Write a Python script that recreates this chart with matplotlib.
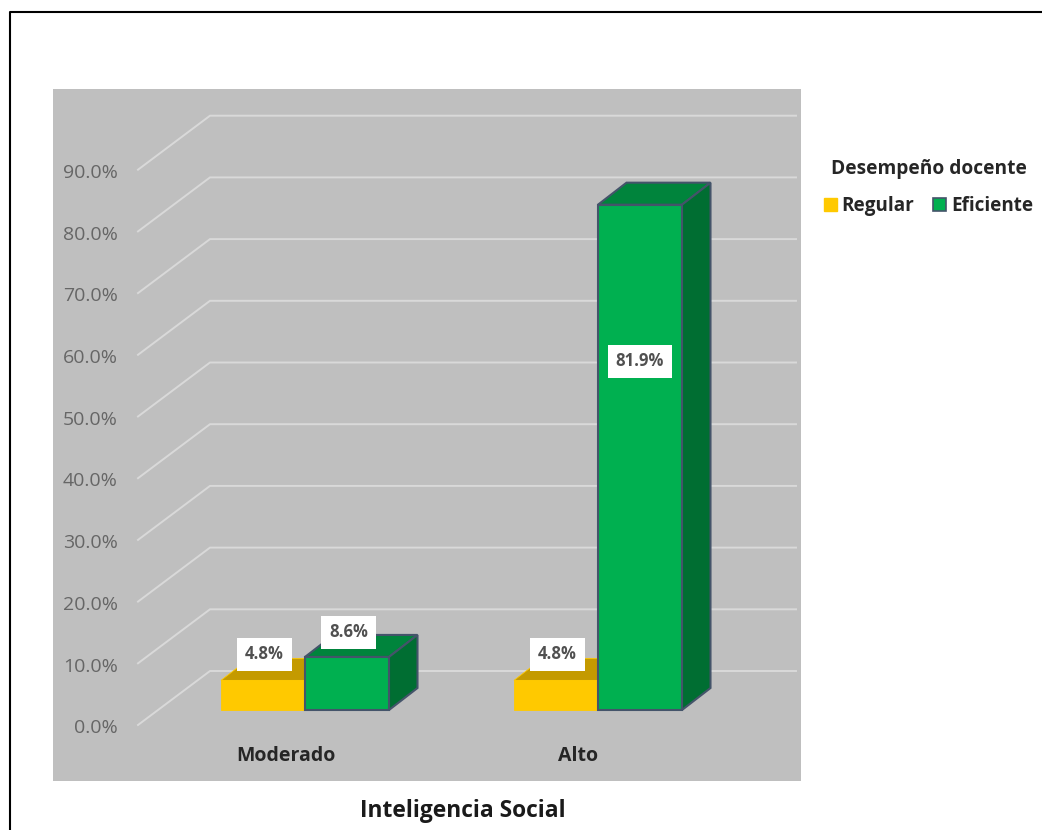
import matplotlib
matplotlib.use("Agg")
import matplotlib.pyplot as plt
from matplotlib.lines import Line2D
from matplotlib.patches import Polygon, Rectangle
from matplotlib.transforms import ScaledTranslation

plt.rcParams['font.family'] = ['Open Sans', 'DejaVu Sans']

categories = ['Moderado', 'Alto']
series_names = ['Regular', 'Eficiente']
regular = [4.8, 4.8]
eficiente = [8.6, 81.9]
tick_values = [0, 10, 20, 30, 40, 50, 60, 70, 80, 90]
xlabel = 'Inteligencia Social'
legend_title = 'Desempeño docente'

W, H = 1042, 830
fig = plt.figure(figsize=(W / 100, H / 100), dpi=100, facecolor='white')
L, R, T, B = 53, 801, 89, 781
ax = fig.add_axes([L / W, 1 - B / H, (R - L) / W, (B - T) / H], facecolor='#BFBFBF')

PX_X = 293.0   # pixels per category
PX_Y = 6.17    # pixels per percent
X0, Y0 = 305, 710
ax.set_xlim((L - X0) / PX_X, (R - X0) / PX_X)
ax.set_ylim((Y0 - B) / PX_Y, (Y0 - T) / PX_Y)
for s in ax.spines.values():
    s.set_visible(False)

# 3-D geometry in data units
bar_w = 84 / PX_X
dep_x, dep_y = 28.5 / PX_X, 22 / PX_Y
front_y = -15 / PX_Y
back_y = 39 / PX_Y
wall_x0, wall_x1, floor_x = (210 - X0) / PX_X, (796 - X0) / PX_X, (138 - X0) / PX_X

for v in tick_values:
    ax.plot([floor_x, wall_x0, wall_x1], [v + front_y, v + back_y, v + back_y],
            color='#D9D9D9', lw=1.4, zorder=1, solid_joinstyle='miter')

ax.set_yticks([v + front_y for v in tick_values])
ax.set_yticklabels([f'{v:.1f}%' for v in tick_values])
ax.tick_params(axis='y', length=0, pad=-(118 - L) * 0.72, labelsize=14, labelcolor='#666666')
label_shift = ScaledTranslation(0, -1.2 / 100, fig.dpi_scale_trans)
for tick in ax.yaxis.get_major_ticks():
    tick.label1.set_transform(tick.label1.get_transform() + label_shift)
ax.set_xticks([i - 19.5 / PX_X for i in range(len(categories))])
ax.set_xticklabels(categories, fontweight='bold')
ax.tick_params(axis='x', length=0, pad=-(B - 746) * 0.72, labelsize=14, labelcolor='#262626')


def box3d(x_left, value, front, top, side, edge, lw, z):
    ax.bar(x_left, value, width=bar_w, align='edge', color=front, edgecolor=edge,
           linewidth=lw, zorder=z + 0.2)
    xr = x_left + bar_w
    ax.add_patch(Polygon([(x_left, value), (xr, value), (xr + dep_x, value + dep_y),
                          (x_left + dep_x, value + dep_y)],
                         facecolor=top, edgecolor=edge, lw=lw, zorder=z, joinstyle='miter'))
    ax.add_patch(Polygon([(xr, 0), (xr + dep_x, dep_y), (xr + dep_x, value + dep_y), (xr, value)],
                         facecolor=side, edgecolor=edge, lw=lw, zorder=z, joinstyle='miter'))


def label(x, y, value):
    ax.text(x, y, f'{value:.1f}%', ha='center', va='center', fontsize=12, fontweight='bold',
            color='#505050', zorder=10,
            bbox=dict(boxstyle='square,pad=0.46', facecolor='white', edgecolor='none'))


for i in range(len(categories)):
    box3d(i - bar_w, regular[i], '#FFC900', '#C49A00', '#C49A00', '#FFC900', 0.6, 3)
    box3d(i, eficiente[i], '#00B050', '#00843C', '#006E32', '#44546A', 1.5, 4)
    label(i - bar_w / 2 + 1.5 / PX_X, regular[i] + 4.2, regular[i])
    y_g = eficiente[i] * 0.69 if eficiente[i] > 50 else eficiente[i] + 4.0
    label(i + bar_w / 2 + (0 if eficiente[i] > 50 else 1.5) / PX_X, y_g, eficiente[i])

handles = [Rectangle((0, 0), 1, 1, facecolor='#FFC900', edgecolor='#FFC900'),
           Rectangle((0, 0), 1, 1, facecolor='#00B050', edgecolor='#44546A', lw=1.2)]
leg = fig.legend(handles, series_names, ncol=2, frameon=False, title=legend_title,
                 loc='center', bbox_to_anchor=(928.5 / W, 1 - 187.5 / H),
                 prop=dict(weight='bold', size=13.6),
                 title_fontproperties=dict(weight='bold', size=13.8),
                 handlelength=0.69, handleheight=0.69, handletextpad=0.26, columnspacing=1.0,
                 labelcolor='#262626', labelspacing=0, borderpad=0, borderaxespad=0)
leg._legend_box.sep = 12
leg.get_title().set_color('#262626')

fig.text(463 / W, 1 - 811 / H, xlabel, ha='center', va='center', fontsize=16.4,
         fontweight='bold', color='#1a1a1a')

fig.add_artist(Line2D([9.5 / W, 9.5 / W, 1.0], [0, 1 - 12.5 / H, 1 - 12.5 / H],
                      color='black', lw=1.5, transform=fig.transFigure))

fig.savefig('out.png', dpi=100)
